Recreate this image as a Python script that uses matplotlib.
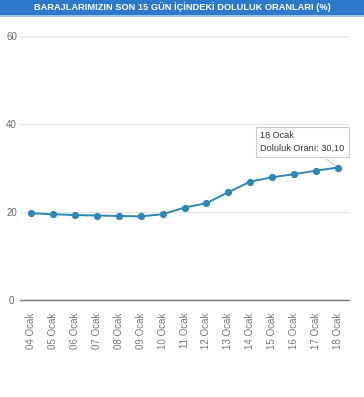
import matplotlib.pyplot as plt
from matplotlib.patches import Rectangle

plt.rcParams['font.family'] = ['Liberation Sans', 'DejaVu Sans']

# veriler
gunler = ['04 Ocak', '05 Ocak', '06 Ocak', '07 Ocak', '08 Ocak', '09 Ocak', '10 Ocak',
          '11 Ocak', '12 Ocak', '13 Ocak', '14 Ocak', '15 Ocak', '16 Ocak', '17 Ocak', '18 Ocak']
doluluk = [19.7, 19.5, 19.3, 19.2, 19.1, 19.0, 19.5, 21.0, 22.0, 24.5, 26.9, 27.9, 28.6, 29.4, 30.10]
y_ticks = [0, 20, 40, 60]
baslik = 'BARAJLARIMIZIN SON 15 GÜN İÇİNDEKİ DOLULUK ORANLARI (%)'

W, H = 364, 397
fig = plt.figure(figsize=(W / 100, H / 100), dpi=100)
fig.patch.set_facecolor('white')

# baslik cubugu
fig.patches.append(Rectangle((0, 1 - 15 / H), 1, 15 / H, transform=fig.transFigure,
                             facecolor='#2c79cb', edgecolor='none'))
fig.patches.append(Rectangle((0, 1 - 16.5 / H), 1, 1.5 / H, transform=fig.transFigure,
                             facecolor='#9cc3ea', edgecolor='none'))
fig.text(0.5, 1 - 7.5 / H, baslik, color='white', fontsize=6.7, fontweight='bold',
         ha='center', va='center')

ax = fig.add_axes([20 / W, 1 - 300 / H, 329 / W, 264 / H])
x = list(range(len(gunler)))
ax.plot(x, doluluk, color='#2d86b4', linewidth=1.4, marker='o', markersize=4.2, zorder=3)

ax.set_xlim(-0.5, len(gunler) - 0.5)
ax.set_ylim(0, 60)
ax.set_yticks(y_ticks)
ax.set_xticks(x)
ax.set_xticklabels(gunler, rotation=90, fontsize=7, color='#777777')
ax.tick_params(axis='x', length=0, pad=9)
ax.tick_params(axis='y', length=0, labelsize=7, labelcolor='#666666')
for lbl in ax.get_yticklabels():
    lbl.set_ha('center')
ax.yaxis.set_tick_params(pad=6)

ax.grid(axis='y', color='#e3e3e3', linewidth=0.9)
ax.set_axisbelow(True)
for s in ['top', 'right', 'left']:
    ax.spines[s].set_visible(False)
ax.spines['bottom'].set_color('#777777')
ax.spines['bottom'].set_linewidth(1.0)

# ipucu kutusu
son = len(gunler) - 1
ax.annotate('18 Ocak\nDoluluk Oranı: 30,10', xy=(x[son], doluluk[son]),
            xytext=(10.45, 35.9), ha='left', va='center', multialignment='left',
            fontsize=6.6, color='#333333', linespacing=1.5,
            bbox=dict(boxstyle='square,pad=0.5', fc='white', ec='#cccccc', lw=0.8),
            arrowprops=dict(arrowstyle='-', color='#cccccc', lw=0.8), zorder=5)

fig.savefig('out.png', dpi=100)
